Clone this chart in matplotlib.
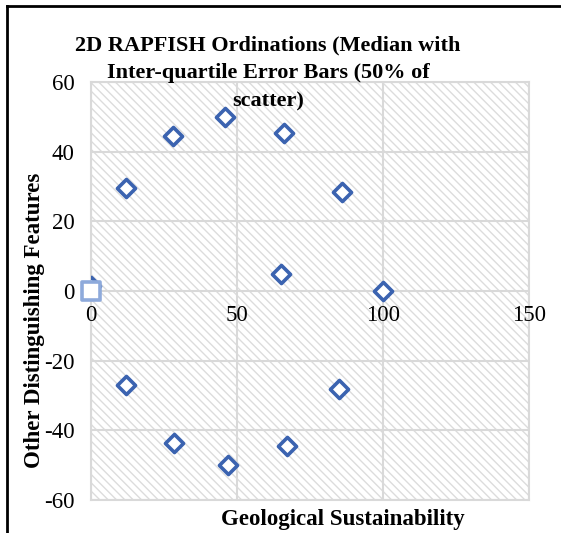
# 2D RAPFISH ordination scatter
import numpy as np
import matplotlib.pyplot as plt
from matplotlib.lines import Line2D

# Ordination scores
geo = [0, 12, 28, 46, 66, 86, 65, 100, 12, 28.5, 47, 67, 85]
other = [1.5, 29.5, 44.5, 50, 45.5, 28.5, 5, 0, -27, -43.5, -50, -44.5, -28]
ref_x = [0]
ref_y = [0]

xticks = [0, 50, 100, 150]
yticks = [-60, -40, -20, 0, 20, 40, 60]

plt.rcParams['font.family'] = ['Liberation Serif', 'DejaVu Serif']
plt.rcParams['axes.unicode_minus'] = False
plt.rcParams['hatch.color'] = '#dcdcdc'

fig = plt.figure(figsize=(5.61, 5.33), dpi=100)
ax = fig.add_axes([91 / 561, 1 - 500 / 533, (529 - 91) / 561, (500 - 82) / 533])

# hatched plot area background
ax.add_patch(plt.Rectangle((0, 0), 1, 1, transform=ax.transAxes, facecolor='white',
                           edgecolor='#dcdcdc', hatch='\\\\\\\\', linewidth=0, zorder=0))
ax.set_facecolor('white')

ax.set_xlim(0, 150)
ax.set_ylim(-60, 60)
ax.set_xticks(xticks)
ax.set_yticks(yticks)
ax.grid(True, color='#d9d9d9', linewidth=1.5, zorder=1)
for s in ax.spines.values():
    s.set_color('#d9d9d9')
    s.set_linewidth(1.5)
ax.tick_params(length=0, labelsize=16.5, colors='black')
ax.tick_params(axis='y', pad=12)
ax.set_xticklabels([])

# x tick labels sit just under the y=0 line
for v in xticks:
    ax.text(v, -4, str(v), ha='center', va='top', fontsize=16.5)

ax.scatter(geo, other, marker='D', s=85, facecolors='white', edgecolors='#3b63b0',
           linewidths=2.6, zorder=3)
ax.scatter(ref_x, ref_y, marker='s', s=170, facecolors='white', edgecolors='#8eaadb',
           linewidths=2.6, zorder=4, clip_on=False)

fig.text(268 / 561, 1 - 35 / 533, '2D RAPFISH Ordinations (Median with\nInter-quartile Error Bars (50% of\nscatter)',
         ha='center', va='top', fontsize=16, fontweight='bold', linespacing=1.55)
fig.text(343 / 561, 1 - 520 / 533, 'Geological Sustainability', ha='center', va='center',
         fontsize=16.5, fontweight='bold')
fig.text(35 / 561, 1 - 320 / 533, 'Other Distinguishing Features', ha='center', va='center',
         rotation=90, fontsize=16.5, fontweight='bold')

# outer frame (left and top edges visible)
fig.add_artist(Line2D([7 / 561, 7 / 561], [0, 1 - 6 / 533], color='black', linewidth=2,
                      transform=fig.transFigure))
fig.add_artist(Line2D([7 / 561, 1], [1 - 6 / 533, 1 - 6 / 533], color='black', linewidth=2,
                      transform=fig.transFigure))

plt.savefig('out.png', dpi=100)
